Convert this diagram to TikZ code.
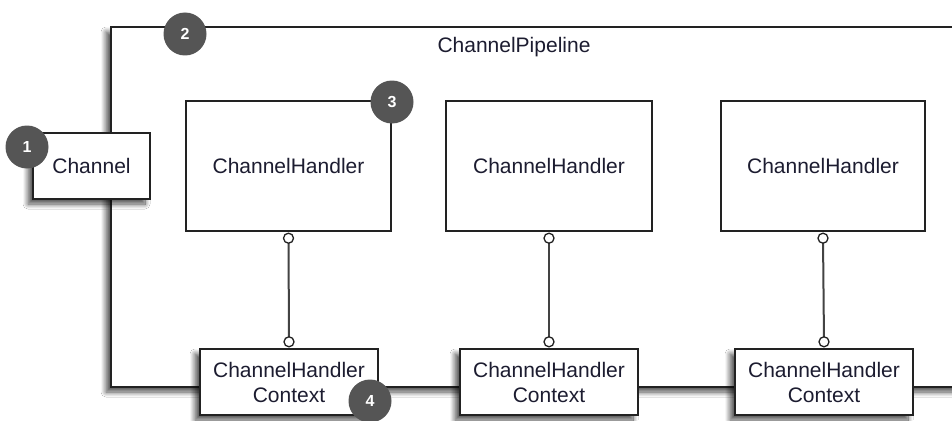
\documentclass[tikz,border=0pt]{standalone}
\usepackage{fontspec}
\setmainfont{Liberation Sans}
\usetikzlibrary{shadows.blur}
\definecolor{txt}{HTML}{1C1C30}
\definecolor{badgec}{HTML}{555555}
\definecolor{linec}{HTML}{222222}
\tikzset{
  box/.style={draw=linec, line width=1.4pt, fill=white, rectangle, inner sep=0pt,
    text=txt, font=\fontsize{21}{25}\selectfont, align=center},
  shad/.style={blur shadow={shadow xshift=-5pt, shadow yshift=-5pt, shadow blur steps=12, shadow blur radius=5pt, shadow opacity=70}},
  badge/.style={circle, fill=badgec, minimum size=43pt, inner sep=0pt, text=white,
    font=\bfseries\fontsize{16}{16}\selectfont},
  conn/.style={draw=linec!85, line width=2pt},
  knob/.style={circle, draw=linec, line width=1.3pt, fill=white, minimum size=10pt, inner sep=0pt}
}
\begin{document}
\begin{tikzpicture}[x=1pt,y=-1pt]
\useasboundingbox (0,0) rectangle (952,420);
\clip (0,0) rectangle (952,420);
\fill[white] (0,0) rectangle (952,420);
% pipeline
\node[box, shad, minimum width=880pt, minimum height=360pt] (pipe) at (551,207) {};
\node[text=txt, font=\fontsize{21}{25}\selectfont] (ptitle) at (514,47) {ChannelPipeline};
% handlers
\node[box, minimum width=205pt, minimum height=130pt] (h1) at (288.5,166) {ChannelHandler};
\node[box, minimum width=206pt, minimum height=130pt] (h2) at (549,166) {ChannelHandler};
\node[box, minimum width=204pt, minimum height=130pt] (h3) at (823,166) {ChannelHandler};
% contexts
\node[box, shad, minimum width=178pt, minimum height=66pt] (c1) at (289,382) {ChannelHandler\\Context};
\node[box, shad, minimum width=178pt, minimum height=66pt] (c2) at (549,382) {ChannelHandler\\Context};
\node[box, shad, minimum width=178pt, minimum height=66pt] (c3) at (824,382) {ChannelHandler\\Context};
% connectors
\foreach \i in {1,2,3}{
  \draw[conn] ([yshift=-6pt]h\i.south) -- ([yshift=6pt]c\i.north);
  \node[knob] (kt\i) at ([yshift=-6.5pt]h\i.south) {};
  \node[knob] (kb\i) at ([yshift=6.5pt]c\i.north) {};
}
% channel
\node[box, shad, minimum width=117pt, minimum height=66pt] (ch) at (91.5,166) {Channel};
% badges
\node[badge] (b1) at (27,147) {1};
\node[badge] (b2) at (185,34) {2};
\node[badge] (b3) at (392,102) {3};
\node[badge] (b4) at (370,401) {4};
\end{tikzpicture}
\end{document}
